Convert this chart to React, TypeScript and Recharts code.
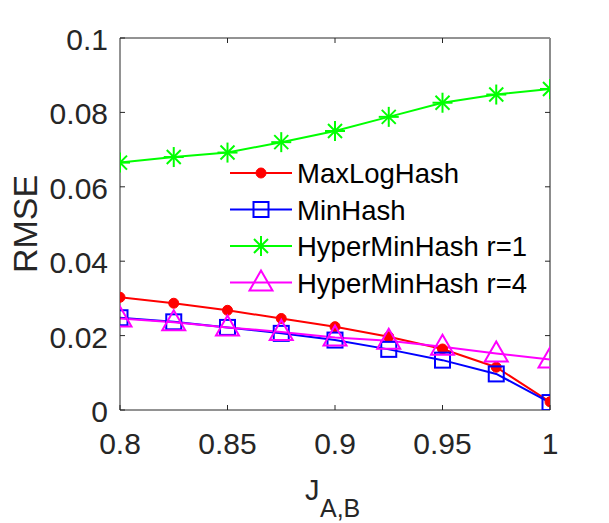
import React from 'react';
import { LineChart, Line, XAxis, YAxis, ReferenceLine } from 'recharts';

// J_{A,B} values on the x axis
const jValues = [0.8, 0.825, 0.85, 0.875, 0.9, 0.925, 0.95, 0.975, 1];

// RMSE per method
const maxLogHash = [0.0303, 0.0287, 0.0268, 0.0246, 0.0224, 0.0197, 0.0164, 0.0115, 0.0022];
const minHash = [0.0248, 0.0237, 0.0222, 0.0206, 0.0188, 0.0163, 0.0134, 0.0097, 0.002];
const hyperR1 = [0.0665, 0.068, 0.0692, 0.072, 0.075, 0.0788, 0.0826, 0.0848, 0.0863];
const hyperR4 = [0.0246, 0.0236, 0.0222, 0.021, 0.0195, 0.0186, 0.017, 0.0152, 0.0136];

const xTicks = [0.8, 0.85, 0.9, 0.95, 1];
const yTicks = [0, 0.02, 0.04, 0.06, 0.08, 0.1];

const seriesNames = ['MaxLogHash', 'MinHash', 'HyperMinHash r=1', 'HyperMinHash r=4'];

const data = jValues.map((j, i) => ({
  j,
  maxLog: maxLogHash[i],
  minHash: minHash[i],
  r1: hyperR1[i],
  r4: hyperR4[i],
}));

const FONT = '"Liberation Sans", Arial, Helvetica, sans-serif';
const TEXT = '#262626';
const BOX_RIGHT = '#8c8c8c';

type Marker = 'circle' | 'square' | 'star' | 'triangle';

const drawMarker = (kind: Marker, cx: number, cy: number, color: string, key?: string | number) => {
  if (kind === 'circle') return <circle key={key} cx={cx} cy={cy} r={5} fill={color} stroke={color} />;
  if (kind === 'square')
    return <rect key={key} x={cx - 7.5} y={cy - 7.5} width={15} height={15} fill="none" stroke={color} strokeWidth={2} />;
  if (kind === 'triangle')
    return (
      <polygon
        key={key}
        points={`${cx},${cy - 12} ${cx - 11.5},${cy + 8} ${cx + 11.5},${cy + 8}`}
        fill="none"
        stroke={color}
        strokeWidth={2}
      />
    );
  return (
    <g key={key} stroke={color} strokeWidth={2}>
      <line x1={cx} y1={cy - 10} x2={cx} y2={cy + 10} />
      <line x1={cx - 10} y1={cy} x2={cx + 10} y2={cy} />
      <line x1={cx - 7} y1={cy - 7} x2={cx + 7} y2={cy + 7} />
      <line x1={cx - 7} y1={cy + 7} x2={cx + 7} y2={cy - 7} />
    </g>
  );
};

const series: { key: string; color: string; marker: Marker }[] = [
  { key: 'maxLog', color: '#ff0000', marker: 'circle' },
  { key: 'minHash', color: '#0000ff', marker: 'square' },
  { key: 'r1', color: '#00ff00', marker: 'star' },
  { key: 'r4', color: '#ff00ff', marker: 'triangle' },
];

const BottomTick = (props: any) => {
  const { x, y, payload } = props;
  return (
    <g>
      <line x1={x} y1={y} x2={x} y2={y - 5} stroke={TEXT} strokeWidth={1} />
      <text x={x} y={y + 44} textAnchor="middle" fontSize={30} fontFamily={FONT} fill={TEXT}>
        {String(payload.value)}
      </text>
    </g>
  );
};

const LeftTick = (props: any) => {
  const { x, y, payload } = props;
  return (
    <g>
      <line x1={x} y1={y} x2={x + 5} y2={y} stroke={TEXT} strokeWidth={1} />
      <text x={x - 12} y={y + 12} textAnchor="end" fontSize={30} fontFamily={FONT} fill={TEXT}>
        {String(payload.value)}
      </text>
    </g>
  );
};

// short inward tick at the top end of a vertical reference line
const topTickShape = (p: any) => {
  const y = Math.min(p.y1, p.y2);
  return <line x1={p.x1} y1={y} x2={p.x1} y2={y + 5} stroke={TEXT} strokeWidth={1} />;
};

// short inward tick at the right end of a horizontal reference line
const rightTickShape = (p: any) => {
  const x = Math.max(p.x1, p.x2);
  return <line x1={x} y1={p.y1} x2={x - 5} y2={p.y1} stroke={TEXT} strokeWidth={1} />;
};

// legend drawn as svg inside the chart so it takes no layout space
const LegendBox = ({ left, top }: { left: number; top: number }) => (
  <g>
    {series.map((s, i) => {
      const cy = top + 18 + i * 36.5;
      return (
        <g key={s.key}>
          <line x1={left + 2} y1={cy} x2={left + 64} y2={cy} stroke={s.color} strokeWidth={2} />
          {drawMarker(s.marker, left + 33, cy, s.color)}
          <text x={left + 69} y={cy + 10} fontSize={27.5} fontFamily={FONT} fill="#000">
            {seriesNames[i]}
          </text>
        </g>
      );
    })}
  </g>
);

export default function App() {
  return (
    <div style={{ position: 'absolute', left: 0, top: 0, width: 609, height: 523, background: '#fff' }}>
      <LineChart width={609} height={523} data={data} margin={{ top: 38, right: 59, bottom: 53, left: 0 }}>
        <XAxis
          dataKey="j"
          type="number"
          domain={[0.8, 1]}
          ticks={xTicks}
          tick={BottomTick}
          tickLine={false}
          tickSize={0}
          tickMargin={0}
          height={60}
          axisLine={{ stroke: TEXT, strokeWidth: 1 }}
          allowDataOverflow
        />
        <YAxis
          type="number"
          domain={[0, 0.1]}
          ticks={yTicks}
          tick={LeftTick}
          tickLine={false}
          tickSize={0}
          tickMargin={0}
          width={120}
          axisLine={{ stroke: TEXT, strokeWidth: 1 }}
          allowDataOverflow
        />
        {/* box: top edge and right edge with inward ticks */}
        <ReferenceLine y={0.1} stroke={TEXT} strokeWidth={1} />
        <ReferenceLine x={1} stroke={BOX_RIGHT} strokeWidth={2} />
        {xTicks.slice(1, -1).map((t) => (
          <ReferenceLine key={`tx-${t}`} x={t} shape={topTickShape} />
        ))}
        {yTicks.slice(1, -1).map((t) => (
          <ReferenceLine key={`ty-${t}`} y={t} shape={rightTickShape} />
        ))}
        {series.map((s) => (
          <Line
            key={s.key}
            dataKey={s.key}
            stroke={s.color}
            strokeWidth={2}
            isAnimationActive={false}
            dot={(p: any) => drawMarker(s.marker, p.cx, p.cy, s.color, `${s.key}-${p.index}`)}
            activeDot={false}
          />
        ))}
        <LegendBox left={228} top={155} />
        <text
          x={37}
          y={224}
          transform="rotate(-90 37 224)"
          textAnchor="middle"
          fontSize={34}
          fontFamily={FONT}
          fill={TEXT}
        >
          RMSE
        </text>
        <text x={305} y={500} fontSize={29} fontFamily={FONT} fill={TEXT}>
          J
          <tspan x={320} y={517} fontSize={25}>
            A,B
          </tspan>
        </text>
      </LineChart>
    </div>
  );
}
